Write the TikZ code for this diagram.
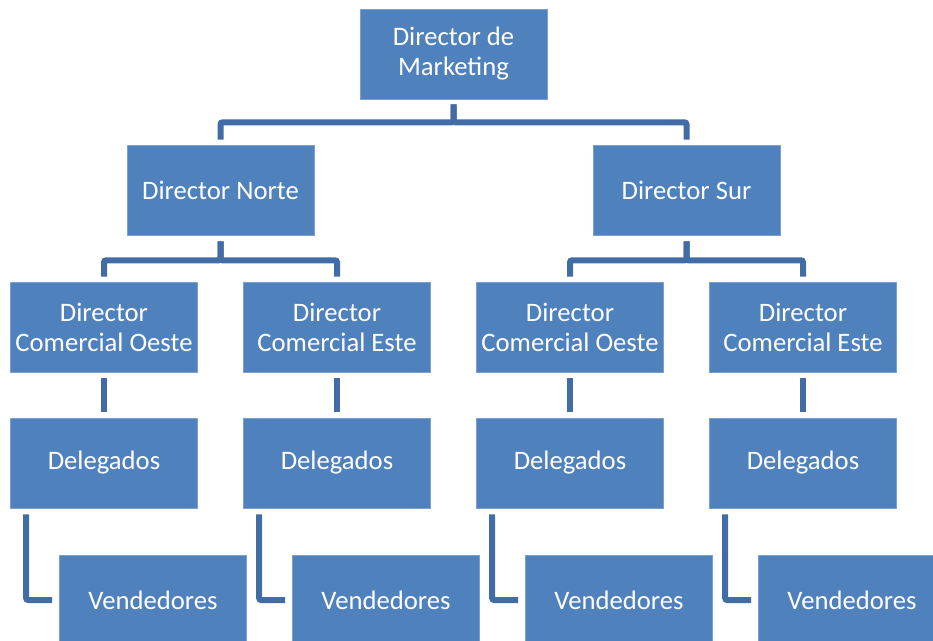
\documentclass[tikz,border=0pt]{standalone}
\usepackage{fontspec}
\setmainfont{Carlito}
\usetikzlibrary{calc}

\definecolor{cajaazul}{RGB}{79,129,189}
\definecolor{bordeazul}{RGB}{125,160,210}
\definecolor{lineaazul}{RGB}{65,108,165}

\tikzset{
  caja/.style={rectangle, fill=cajaazul, draw=bordeazul, line width=0.5pt, text=white,
    minimum width=140.25pt, minimum height=67.5pt, inner sep=0pt, align=center,
    font=\fontsize{20}{22.5}\selectfont},
  conector/.style={draw=lineaazul, line width=4.5pt, rounded corners=1.5pt},
}

\begin{document}
\begin{tikzpicture}[x=0.75pt, y=-0.75pt]

\clip (0, 0) rectangle (933, 640);

\node[caja] (mk) at (453.5, 54) {Director de\\Marketing};

\node[caja] (norte) at (220.5, 190) {Director Norte};
\node[caja] (sur) at (686.5, 190) {Director Sur};

\node[caja] (oesteN) at (104, 327) {Director\\Comercial Oeste};
\node[caja] (esteN) at (337, 327) {Director\\Comercial Este};
\node[caja] (oesteS) at (570, 327) {Director\\Comercial Oeste};
\node[caja] (esteS) at (803, 327) {Director\\Comercial Este};

\node[caja] (delA) at (104, 463) {Delegados};
\node[caja] (delB) at (337, 463) {Delegados};
\node[caja] (delC) at (570, 463) {Delegados};
\node[caja] (delD) at (803, 463) {Delegados};

\node[caja] (venA) at (153, 600) {Vendedores};
\node[caja] (venB) at (386, 600) {Vendedores};
\node[caja] (venC) at (619, 600) {Vendedores};
\node[caja] (venD) at (852, 600) {Vendedores};

\draw[conector, shorten <=3.75pt, shorten >=3.75pt] (mk.south) -- ++(0, 23) -| (norte.north);
\draw[conector, shorten <=3.75pt, shorten >=3.75pt] (mk.south) -- ++(0, 23) -| (sur.north);

\draw[conector, shorten <=4.5pt, shorten >=3.75pt] (norte.south) -- ++(0, 25) -| (oesteN.north);
\draw[conector, shorten <=4.5pt, shorten >=3.75pt] (norte.south) -- ++(0, 25) -| (esteN.north);
\draw[conector, shorten <=4.5pt, shorten >=3.75pt] (sur.south) -- ++(0, 25) -| (oesteS.north);
\draw[conector, shorten <=4.5pt, shorten >=3.75pt] (sur.south) -- ++(0, 25) -| (esteS.north);

\draw[conector, shorten <=4.5pt, shorten >=4.5pt] (oesteN) -- (delA);
\draw[conector, shorten <=4.5pt, shorten >=4.5pt] (esteN) -- (delB);
\draw[conector, shorten <=4.5pt, shorten >=4.5pt] (oesteS) -- (delC);
\draw[conector, shorten <=4.5pt, shorten >=4.5pt] (esteS) -- (delD);

\draw[conector, shorten <=4.5pt, shorten >=5.25pt] ($(delA.south west)+(16, 0)$) |- (venA.west);
\draw[conector, shorten <=4.5pt, shorten >=5.25pt] ($(delB.south west)+(16, 0)$) |- (venB.west);
\draw[conector, shorten <=4.5pt, shorten >=5.25pt] ($(delC.south west)+(16, 0)$) |- (venC.west);
\draw[conector, shorten <=4.5pt, shorten >=5.25pt] ($(delD.south west)+(16, 0)$) |- (venD.west);

\end{tikzpicture}
\end{document}
